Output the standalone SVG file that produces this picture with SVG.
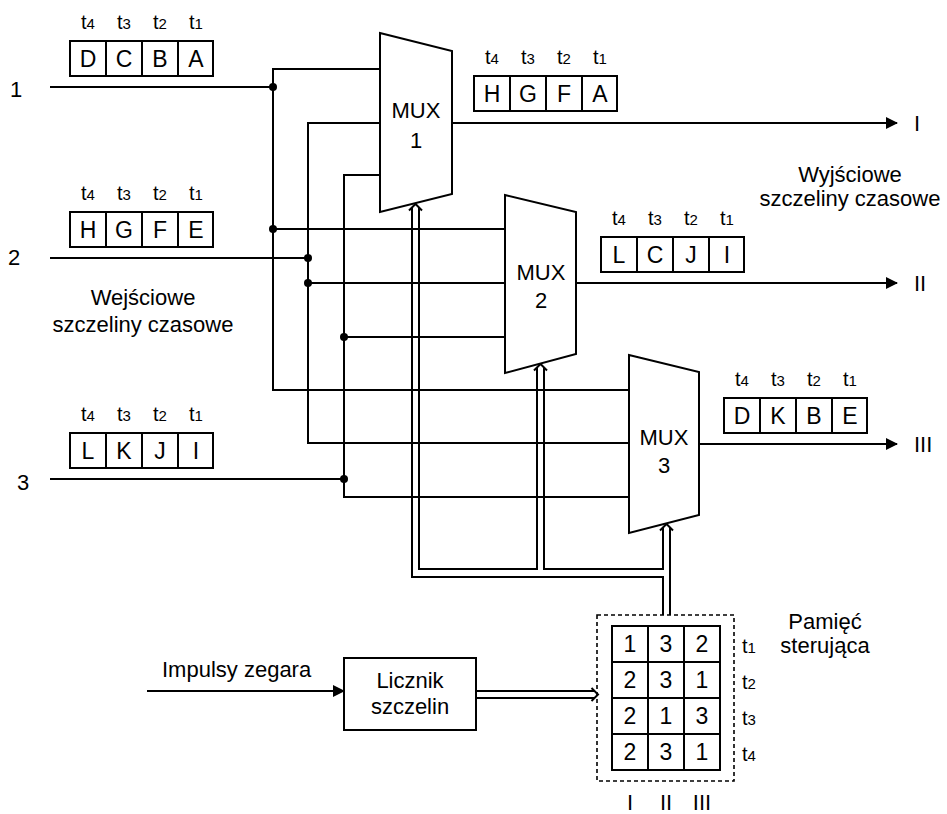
<svg xmlns="http://www.w3.org/2000/svg" width="947" height="814" viewBox="0 0 947 814">
<style>
.ln{fill:none;stroke:#000;stroke-width:2}
.bx{fill:#fff;stroke:#000;stroke-width:2}
.tx{font-family:"Liberation Sans",Arial,sans-serif;font-size:22px;fill:#000}
.lt{font-size:23px}
.m{text-anchor:middle}
.tl{font-family:"Liberation Sans",Arial,sans-serif;font-size:20px;fill:#000;text-anchor:middle}
.sub{font-size:15px}
.dot{fill:#000}
.dash{fill:none;stroke:#000;stroke-width:1.6;stroke-dasharray:4 3}
</style>
<defs>
<marker id="ah" markerWidth="12" markerHeight="12" refX="11" refY="6" orient="auto" markerUnits="userSpaceOnUse">
<path d="M0,0 L12,6 L0,12 Z" fill="#000"/>
</marker>
<g id="slots">
<rect class="bx" x="0" y="0" width="143" height="35"/>
<line class="ln" x1="36" y1="0" x2="36" y2="35"/>
<line class="ln" x1="72" y1="0" x2="72" y2="35"/>
<line class="ln" x1="108" y1="0" x2="108" y2="35"/>
<text class="tl" x="18" y="-12">t<tspan class="sub">4</tspan></text>
<text class="tl" x="54" y="-12">t<tspan class="sub">3</tspan></text>
<text class="tl" x="90" y="-12">t<tspan class="sub">2</tspan></text>
<text class="tl" x="126" y="-12">t<tspan class="sub">1</tspan></text>
</g>
</defs>
<rect width="947" height="814" fill="#fff"/>

<g id="connectors">
<line class="ln" x1="50" y1="87" x2="273" y2="87"/>
<line class="ln" x1="50" y1="258" x2="308" y2="258"/>
<line class="ln" x1="50" y1="479" x2="344" y2="479"/>
<path class="ln" d="M380,69 H273 V390 H629"/>
<line class="ln" x1="273" y1="229" x2="505" y2="229"/>
<path class="ln" d="M380,123 H308 V443 H629"/>
<line class="ln" x1="308" y1="283" x2="505" y2="283"/>
<path class="ln" d="M380,175 H344 V497 H629"/>
<line class="ln" x1="344" y1="337" x2="505" y2="337"/>
<circle class="dot" cx="273" cy="87" r="4"/>
<circle class="dot" cx="273" cy="229" r="4"/>
<circle class="dot" cx="308" cy="258" r="4"/>
<circle class="dot" cx="308" cy="283" r="4"/>
<circle class="dot" cx="344" cy="337" r="4"/>
<circle class="dot" cx="344" cy="479" r="4"/>
<line class="ln" x1="452" y1="123" x2="897" y2="123" marker-end="url(#ah)"/>
<line class="ln" x1="576" y1="283" x2="897" y2="283" marker-end="url(#ah)"/>
<line class="ln" x1="699" y1="444" x2="897" y2="444" marker-end="url(#ah)"/>
<path class="ln" d="M412,207.5 V577 H663 V615"/>
<path class="ln" d="M419,207.5 V569 H537 V367.5"/>
<path class="ln" d="M544,367.5 V569 H663 V527.5"/>
<path class="ln" d="M670,527.5 V615"/>
<path class="ln" d="M409,210.5 L415.5,204 L422,210.5"/>
<path class="ln" d="M534,370.5 L540.5,364 L547,370.5"/>
<path class="ln" d="M660,530.5 L666.5,524 L673,530.5"/>
<line class="ln" x1="147" y1="691" x2="344" y2="691" marker-end="url(#ah)"/>
<path class="ln" d="M476,691 H594.5 M476,698 H594.5"/>
<path class="ln" d="M591.5,688 L598,694.5 L591.5,701"/>
</g>

<g id="input1">
<text class="tx" x="10" y="97">1</text>
<use href="#slots" x="70" y="41"/>
<text class="tx lt m" x="88" y="67">D</text>
<text class="tx lt m" x="124" y="67">C</text>
<text class="tx lt m" x="160" y="67">B</text>
<text class="tx lt m" x="196" y="67">A</text>
</g>
<g id="input2">
<text class="tx" x="8" y="265">2</text>
<use href="#slots" x="70" y="212"/>
<text class="tx lt m" x="88" y="238">H</text>
<text class="tx lt m" x="124" y="238">G</text>
<text class="tx lt m" x="160" y="238">F</text>
<text class="tx lt m" x="196" y="238">E</text>
</g>
<g id="input3">
<text class="tx" x="17" y="490">3</text>
<use href="#slots" x="70" y="433"/>
<text class="tx lt m" x="88" y="459">L</text>
<text class="tx lt m" x="124" y="459">K</text>
<text class="tx lt m" x="160" y="459">J</text>
<text class="tx lt m" x="196" y="459">I</text>
</g>
<g id="input-label">
<text class="tx m" x="143" y="305">Wejściowe</text>
<text class="tx m" x="143" y="332">szczeliny czasowe</text>
</g>

<g id="mux1">
<polygon class="bx" points="380,33 452,51 452,194 380,212"/>
<text class="tx m" x="416" y="118">MUX</text>
<text class="tx m" x="416" y="148">1</text>
</g>
<g id="mux2">
<polygon class="bx" points="505,195 576,212 576,354 505,373"/>
<text class="tx m" x="541" y="280">MUX</text>
<text class="tx m" x="541" y="308">2</text>
</g>
<g id="mux3">
<polygon class="bx" points="629,355 699,372 699,515 629,533"/>
<text class="tx m" x="664" y="445">MUX</text>
<text class="tx m" x="664" y="473">3</text>
</g>

<g id="output1">
<use href="#slots" x="474" y="76"/>
<text class="tx lt m" x="492" y="102">H</text>
<text class="tx lt m" x="528" y="102">G</text>
<text class="tx lt m" x="564" y="102">F</text>
<text class="tx lt m" x="600" y="102">A</text>
<text class="tx" x="914" y="131">I</text>
</g>
<g id="output2">
<use href="#slots" x="601" y="237"/>
<text class="tx lt m" x="619" y="263">L</text>
<text class="tx lt m" x="655" y="263">C</text>
<text class="tx lt m" x="691" y="263">J</text>
<text class="tx lt m" x="727" y="263">I</text>
<text class="tx" x="914" y="291">II</text>
</g>
<g id="output3">
<use href="#slots" x="724" y="398"/>
<text class="tx lt m" x="742" y="424">D</text>
<text class="tx lt m" x="778" y="424">K</text>
<text class="tx lt m" x="814" y="424">B</text>
<text class="tx lt m" x="850" y="424">E</text>
<text class="tx" x="914" y="452">III</text>
</g>
<g id="output-label">
<text class="tx m" x="850" y="182">Wyjściowe</text>
<text class="tx m" x="850" y="206">szczeliny czasowe</text>
</g>

<g id="clock">
<text class="tx" x="162" y="677">Impulsy zegara</text>
</g>
<g id="counter">
<rect class="bx" x="344" y="658" width="132" height="72"/>
<text class="tx m" x="410" y="688">Licznik</text>
<text class="tx m" x="410" y="714">szczelin</text>
</g>

<g id="memory">
<rect class="dash" x="597" y="615" width="137" height="166"/>
<rect class="bx" x="612" y="626" width="108" height="144"/>
<path class="ln" d="M648,626 V770 M684,626 V770 M612,662 H720 M612,698 H720 M612,734 H720"/>
<text class="tx lt m" x="630" y="652">1</text>
<text class="tx lt m" x="666" y="652">3</text>
<text class="tx lt m" x="702" y="652">2</text>
<text class="tx lt m" x="630" y="688">2</text>
<text class="tx lt m" x="666" y="688">3</text>
<text class="tx lt m" x="702" y="688">1</text>
<text class="tx lt m" x="630" y="724">2</text>
<text class="tx lt m" x="666" y="724">1</text>
<text class="tx lt m" x="702" y="724">3</text>
<text class="tx lt m" x="630" y="760">2</text>
<text class="tx lt m" x="666" y="760">3</text>
<text class="tx lt m" x="702" y="760">1</text>
<text class="tl" x="749" y="653">t<tspan class="sub">1</tspan></text>
<text class="tl" x="749" y="689">t<tspan class="sub">2</tspan></text>
<text class="tl" x="749" y="725">t<tspan class="sub">3</tspan></text>
<text class="tl" x="749" y="761">t<tspan class="sub">4</tspan></text>
<text class="tx m" x="630" y="810">I</text>
<text class="tx m" x="666" y="810">II</text>
<text class="tx m" x="702" y="810">III</text>
<text class="tx m" x="825" y="629">Pamięć</text>
<text class="tx m" x="825" y="653">sterująca</text>
</g>
</svg>
